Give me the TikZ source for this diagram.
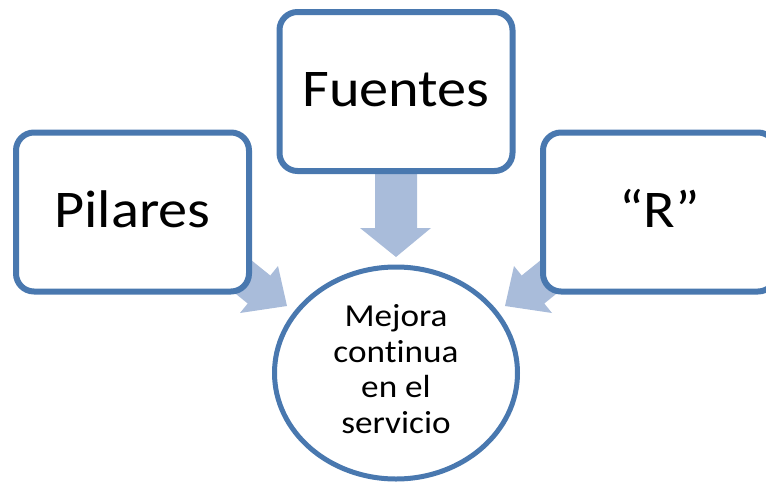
\documentclass[tikz,border=0pt]{standalone}
\usepackage{fontspec}
\setmainfont[Ligatures=NoCommon]{Carlito}
\usetikzlibrary{shapes.geometric}
\definecolor{boxblue}{RGB}{73,120,175}
\definecolor{arrowfill}{RGB}{169,188,218}
\begin{document}
\begin{tikzpicture}[x=1pt,y=-1pt,
 box/.style={draw=boxblue, line width=6pt, rounded corners=18pt, fill=white,
   minimum width=233pt, minimum height=159pt, inner sep=0pt,
   text height=30pt, text depth=0pt, font=\fontsize{53}{60}\selectfont},
 hub/.style={ellipse, draw=boxblue, line width=5pt, fill=white,
   minimum width=243pt, minimum height=212pt, inner sep=0pt,
   font=\fontsize{32}{35.7}\selectfont},
 blockarrow/.style={fill=arrowfill, draw=none}]
\useasboundingbox (0,0) rectangle (766,482);
\clip (0,0) rectangle (766,482);
% block arrows (behind the boxes)
\coordinate (lt1) at (223.6,237.8);
\coordinate (ln1) at (270.3,275.5);
\coordinate (la) at (278,266);
\coordinate (ltip) at (287,306);
\coordinate (lb) at (240,313);
\coordinate (ln2) at (247.7,303.5);
\coordinate (lt2) at (201,265.7);
\fill[blockarrow] (lt1) -- (ln1) -- (la) -- (ltip) -- (lb) -- (ln2) -- (lt2) -- cycle;
\coordinate (rt1) at (568.4,237.8);
\coordinate (rn1) at (521.7,275.5);
\coordinate (ra) at (514,266);
\coordinate (rtip) at (505,306);
\coordinate (rb) at (552,313);
\coordinate (rn2) at (544.3,303.5);
\coordinate (rt2) at (591,265.7);
\fill[blockarrow] (rt1) -- (rn1) -- (ra) -- (rtip) -- (rb) -- (rn2) -- (rt2) -- cycle;
\coordinate (mt1) at (375,165);
\coordinate (mn1) at (375,228);
\coordinate (ma) at (360,228);
\coordinate (mtip) at (396,257);
\coordinate (mb) at (431,228);
\coordinate (mn2) at (417,228);
\coordinate (mt2) at (417,165);
\fill[blockarrow] (mt1) -- (mn1) -- (ma) -- (mtip) -- (mb) -- (mn2) -- (mt2) -- cycle;
% boxes
\node[box] (pil) at (132.5,212) {\scalebox{1.1}[1]{Pilares}};
\node[box] (fue) at (396,91.5) {\scalebox{1.1}[1]{Fuentes}};
\node[box] (rr) at (659.5,212) {\scalebox{1.1}[1]{“R”}};
\node[hub] (mej) at (396,373) {\scalebox{1.1}[1]{\begin{tabular}{@{}c@{}}Mejora\\continua\\en el\\servicio\end{tabular}}};
\end{tikzpicture}
\end{document}
